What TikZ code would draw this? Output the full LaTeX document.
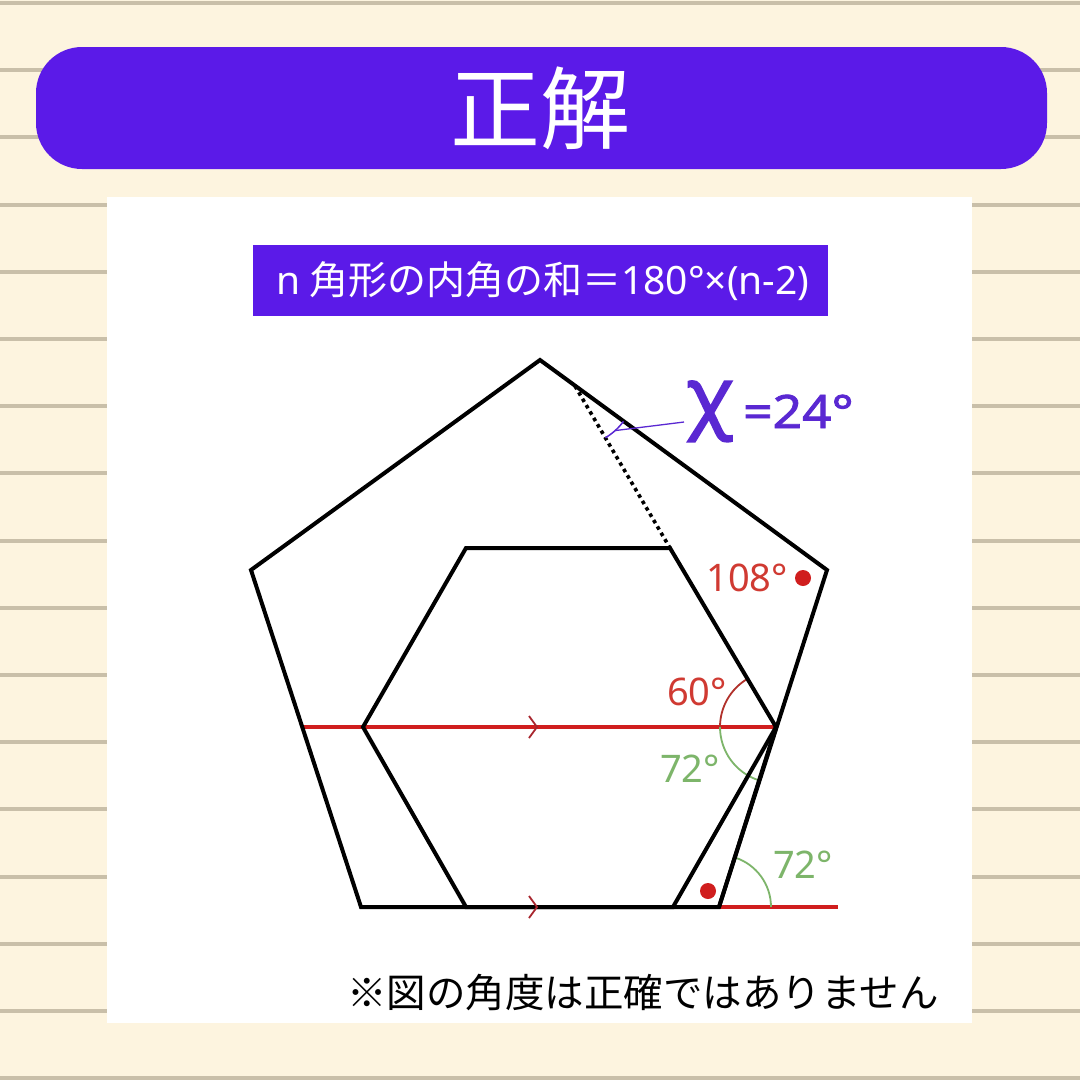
\documentclass[tikz,border=0pt]{standalone}
\usepackage{fontspec}
\usetikzlibrary{calc}
\setmainfont{Noto Sans}
\newfontfamily\jp{Noto Sans CJK JP}
\newfontfamily\ns{Noto Sans}
\newfontfamily\nsb{Noto Sans}[FakeBold=1.8,FakeStretch=1.12]
\newfontfamily\nsc{Noto Sans}[FakeBold=2.2]
\definecolor{cream}{HTML}{FDF4DF}
\definecolor{ruleline}{HTML}{C9BFA9}
\definecolor{banner}{HTML}{5B1AE8}
\definecolor{xpurple}{HTML}{5A28D2}
\definecolor{redline}{HTML}{D01E1E}
\definecolor{redtext}{HTML}{D03A32}
\definecolor{chev}{HTML}{A8262E}
\definecolor{greenang}{HTML}{7DB56A}
\tikzset{
  fig/.style={line width=4pt, black, line join=miter},
  redl/.style={line width=3.5pt, redline},
  chevron/.style={line width=1.8pt, chev},
  anglab/.style={font=\ns\fontsize{38}{38}\selectfont, inner sep=0pt},
  dotline/.style={line width=3.6pt, dash pattern=on 3.6pt off 3.8pt, black},
}
\begin{document}
\begin{tikzpicture}[x=1pt,y=-1pt]
\useasboundingbox (0,0) rectangle (1080,1080);
\fill[cream] (0,0) rectangle (1080,1080);
\foreach \k in {0,...,16}{
  \fill[ruleline] (0,{1+67.2*\k}) rectangle (1080,{5+67.2*\k});
}
% banner
\fill[banner, rounded corners=46pt] (36,47) rectangle (1047,169);
\node[text=white, font=\jp\fontsize{90}{90}\selectfont, inner sep=0pt] (title) at (540,108) {正解};
% white panel
\fill[white] (107,197) rectangle (972,1023);
% formula box
\fill[banner] (253,245) rectangle (828,316);
\node[text=white, font=\jp\fontsize{39}{39}\selectfont, inner sep=0pt] (formula) at (543,281) {{\ns n} 角形の内角の和＝{\ns 180°×(n-2)}};
% points
\coordinate (A) at (540,360);
\coordinate (B) at (827,570);
\coordinate (C) at (719,907);
\coordinate (D) at (361,907);
\coordinate (E) at (251,570);
\coordinate (H1) at (466,548);
\coordinate (H2) at (670,548);
\coordinate (H3) at (776,727);
\coordinate (H4) at (673,907);
\coordinate (H5) at (466,907);
\coordinate (H6) at (363,727);
\coordinate (L) at (302,727);
\coordinate (P) at (575,386);
\coordinate (R) at (838,907);
% red lines
\draw[redl] (L) -- (H3);
\draw[redl] (C) -- (R);
% angle arcs (y axis points down)
\draw[line width=1.8pt, redtext!85!black] (H3) ++(-121:56) arc[start angle=-121, end angle=-180, radius=56];
\draw[line width=1.8pt, greenang] (H3) ++(180:56) arc[start angle=180, end angle=108, radius=56];
\draw[line width=1.8pt, greenang] (C) ++(0:52) arc[start angle=0, end angle=-72, radius=52];
% figures
\draw[fig] (A) -- (B) -- (C) -- (D) -- (E) -- cycle;
\draw[fig] (H1) -- (H2) -- (H3) -- (H4) -- (H5) -- (H6) -- cycle;
\draw[fig] (H3) -- (C);
\draw[dotline] (P) -- (H2);
% chevrons
\coordinate (M1) at (537,727);
\coordinate (M2) at (537,907);
\draw[chevron] (M1) ++(-8,-11) -- (M1) -- ++(-8,11);
\draw[chevron] (M2) ++(-8,-11) -- (M2) -- ++(-8,11);
% x angle
\draw[line width=1.5pt, xpurple] (P) ++(59.6:60) arc[start angle=59.6, end angle=36.1, radius=60];
\coordinate (am) at ($(P)+(48:60)$);
\coordinate (lt) at (684,422);
\draw[line width=1.3pt, xpurple] (am) -- (lt);
\node[text=xpurple, font=\nsc\fontsize{78}{78}\selectfont, inner sep=0pt, anchor=base west] (chi) at (686,423) {χ};
\node[text=xpurple, font=\nsb\fontsize{46}{46}\selectfont, inner sep=0pt, anchor=base west] (val) at (743,428) {=24°};
% angle labels
\node[anglab, text=redtext] (l108) at (747,578) {108°};
\fill[redline] (803,578) circle (8);
\fill[redline] (708,891) circle (8);
\node[anglab, text=redtext] (l60) at (697,692) {60°};
\node[anglab, text=greenang] (l72a) at (690,769) {72°};
\node[anglab, text=greenang] (l72b) at (803,865) {72°};
% footer
\node[font=\jp\fontsize{39.5}{39.5}\selectfont, inner sep=0pt] (note) at (643,993) {※図の角度は正確ではありません};
\end{tikzpicture}
\end{document}
